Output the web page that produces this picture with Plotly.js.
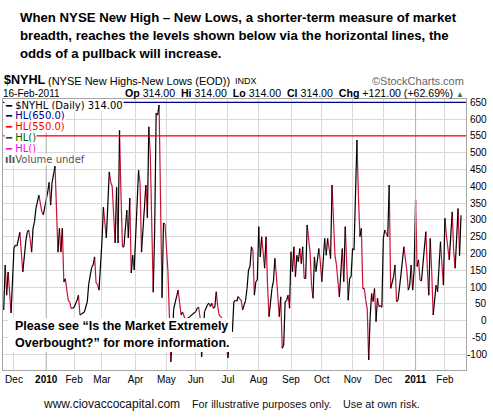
<!DOCTYPE html>
<html><head><meta charset="utf-8">
<script src="https://cdn.plot.ly/plotly-3.0.1.min.js"></script>
<style>html,body{margin:0;padding:0;background:#fff;overflow:hidden}</style>
</head><body><div id="chart" style="width:493px;height:418px"></div>
<script>
const dates = [
'2009-11-19','2009-11-20','2009-11-23','2009-11-24','2009-11-27',
'2009-12-01','2009-12-02','2009-12-03','2009-12-07','2009-12-09','2009-12-11','2009-12-14','2009-12-15','2009-12-16','2009-12-17','2009-12-18','2009-12-21','2009-12-22','2009-12-24','2009-12-29','2009-12-30',
'2010-01-05','2010-01-06','2010-01-07','2010-01-08','2010-01-12','2010-01-14','2010-01-15','2010-01-19','2010-01-20','2010-01-21','2010-01-22','2010-01-26','2010-01-27','2010-01-28','2010-01-29',
'2010-02-01','2010-02-03','2010-02-04','2010-02-05','2010-02-08','2010-02-10','2010-02-12','2010-02-16','2010-02-18','2010-02-19','2010-02-22','2010-02-23','2010-02-24','2010-02-25',
'2010-03-01','2010-03-02','2010-03-04','2010-03-08','2010-03-09','2010-03-10','2010-03-12','2010-03-15','2010-03-16','2010-03-17','2010-03-18','2010-03-19','2010-03-22','2010-03-24','2010-03-25','2010-03-26','2010-03-29','2010-03-30','2010-03-31',
'2010-04-06','2010-04-07','2010-04-08','2010-04-13','2010-04-14','2010-04-15','2010-04-16','2010-04-20','2010-04-21','2010-04-22','2010-04-23','2010-04-26','2010-04-28','2010-04-29','2010-04-30',
'2010-05-04','2010-05-05','2010-05-06','2010-05-10','2010-05-13','2010-05-17','2010-05-18','2010-05-20','2010-05-25','2010-05-27',
'2010-06-01','2010-06-02','2010-06-03','2010-06-04','2010-06-07','2010-06-09','2010-06-11','2010-06-14','2010-06-15','2010-06-16','2010-06-17','2010-06-18','2010-06-21','2010-06-22','2010-06-23','2010-06-24','2010-06-25',
'2010-07-01','2010-07-06','2010-07-07','2010-07-08','2010-07-09','2010-07-12','2010-07-13','2010-07-14','2010-07-15','2010-07-16','2010-07-19','2010-07-20','2010-07-21','2010-07-22','2010-07-23','2010-07-26','2010-07-27','2010-07-28','2010-07-29','2010-07-30',
'2010-08-02','2010-08-03','2010-08-04','2010-08-06','2010-08-09','2010-08-10','2010-08-11','2010-08-13','2010-08-16','2010-08-17','2010-08-18','2010-08-20','2010-08-23','2010-08-24','2010-08-25','2010-08-26','2010-08-27','2010-08-30','2010-08-31',
'2010-09-01','2010-09-02','2010-09-03','2010-09-07','2010-09-08','2010-09-09','2010-09-10','2010-09-13','2010-09-14','2010-09-15','2010-09-16','2010-09-17','2010-09-21','2010-09-22','2010-09-23','2010-09-24','2010-09-27','2010-09-29','2010-09-30',
'2010-10-01','2010-10-05','2010-10-06','2010-10-07','2010-10-11','2010-10-12','2010-10-14','2010-10-15','2010-10-19','2010-10-21','2010-10-22','2010-10-25','2010-10-27','2010-10-28','2010-10-29',
'2010-11-01','2010-11-02','2010-11-04','2010-11-05','2010-11-08','2010-11-09','2010-11-10','2010-11-11','2010-11-12','2010-11-15','2010-11-16','2010-11-17','2010-11-18','2010-11-19','2010-11-22','2010-11-23','2010-11-24','2010-11-26','2010-11-29','2010-11-30',
'2010-12-01','2010-12-02','2010-12-06','2010-12-07','2010-12-08','2010-12-10','2010-12-13','2010-12-14','2010-12-15','2010-12-17','2010-12-21','2010-12-23','2010-12-27','2010-12-28','2010-12-29','2010-12-30','2010-12-31',
'2011-01-03','2011-01-04','2011-01-05','2011-01-06','2011-01-07','2011-01-12','2011-01-13','2011-01-14','2011-01-18','2011-01-19','2011-01-20','2011-01-24','2011-01-25','2011-01-27','2011-01-28','2011-01-31',
'2011-02-01','2011-02-02','2011-02-04','2011-02-08','2011-02-09','2011-02-10','2011-02-14','2011-02-15','2011-02-16'
];
const values = [
32,166,76,145,23,
216,225,222,263,145,234,263,270,244,204,275,295,335,374,324,315,
383,412,344,412,460,204,275,204,275,115,125,61,55,37,37,
40,60,76,17,20,26,56,110,159,166,190,112,108,91,
234,338,246,443,412,400,231,397,231,567,374,220,220,329,246,365,142,195,151,
448,409,204,404,306,577,493,85,275,618,612,642,68,291,288,
150,17,-123,37,91,17,26,2,12,20,
27,37,40,8,-108,27,47,52,42,52,37,40,86,42,17,12,8,
-111,2,-33,56,61,58,72,65,61,32,47,60,96,151,161,220,210,76,116,121,
280,190,250,156,250,106,12,96,116,186,136,12,71,-82,-72,56,60,76,37,
205,146,220,131,195,175,215,170,220,126,126,285,205,106,67,190,146,215,175,
116,245,195,245,185,404,195,166,71,215,116,280,61,126,131,
215,210,538,370,250,275,96,96,60,37,-117,12,81,57,96,-3,67,42,45,40,
245,270,250,404,96,131,166,57,60,136,220,151,91,106,166,91,151,
359,161,181,121,118,265,156,76,245,146,17,106,86,235,166,106,
305,255,181,324,205,156,334,193,314
];
const levels = [650, 550];
const levelColors = ['#000080', '#ff0000'];
const monthTicks = ['2009-12-01','2010-01-04','2010-02-01','2010-03-01','2010-04-01','2010-05-03','2010-06-01','2010-07-01','2010-08-02','2010-09-01','2010-10-01','2010-11-01','2010-12-01','2011-01-03','2011-02-01'];
const monthLabels = ['Dec','<b>2010</b>','Feb','Mar','Apr','May','Jun','Jul','Aug','Sep','Oct','Nov','Dec','<b>2011</b>','Feb'];
const yearStarts = ['2010-01-04','2011-01-03'];
const yTicks = [-100,-50,0,50,100,150,200,250,300,350,400,450,500,550,600,650];
const holidays = ['2009-11-26','2009-12-25','2010-01-01','2010-01-18','2010-02-15','2010-04-02','2010-05-31','2010-07-05','2010-09-06','2010-11-25','2010-12-24','2011-01-17','2011-02-21'];

const upColor = '#000000', downColor = '#cc1036';
const up = {x:[], y:[]}, dn = {x:[], y:[]};
for (let i = 0; i < values.length - 1; i++) {
  const t = values[i+1] >= values[i] ? up : dn;
  t.x.push(dates[i], dates[i+1], null);
  t.y.push(values[i], values[i+1], null);
}
const traces = [
  {type:'scatter', mode:'lines', x:dn.x, y:dn.y, line:{color:downColor, width:1.2}, connectgaps:false, hoverinfo:'skip'},
  {type:'scatter', mode:'lines', x:up.x, y:up.y, line:{color:upColor, width:1.2}, connectgaps:false, hoverinfo:'skip'}
];

// page-pixel to paper helpers (plot area: x 3..466, y 99..370)
const L = 3, R = 466, T = 99, B = 370;
const px = x => (x - L) / (R - L);
const py = y => (B - y) / (B - T);

const last = values[values.length-1], prev = values[values.length-2];
const chg = last - prev;
const pct = chg / prev * 100;
const lastDate = new Date(dates[dates.length-1] + 'T00:00:00Z');
const mon = ['Jan','Feb','Mar','Apr','May','Jun','Jul','Aug','Sep','Oct','Nov','Dec'];
const dateStr = String(lastDate.getUTCDate()).padStart(2,'0') + '-' + mon[lastDate.getUTCMonth()] + '-' + lastDate.getUTCFullYear();
const f2 = v => v.toFixed(2);
const sgn = v => (v >= 0 ? '+' : '') + v.toFixed(2);

const ARIAL = 'Liberation Sans, Arial, sans-serif';
const LEG = 'DejaVu Sans, Verdana, sans-serif';
const ann = [];
function text(x, y, t, size, opts) {
  ann.push(Object.assign({xref:'paper', yref:'paper', x:px(x), y:py(y), text:t, showarrow:false,
    xanchor:'left', yanchor:'middle', font:{family:ARIAL, size:size, color:'#000'}}, opts || {}));
}
// title
text(18, 17, '<b>When NYSE New High – New Lows, a shorter-term measure of market</b>', 13.2);
text(18, 35, '<b>breadth, reaches the levels shown below via the horizontal lines, the</b>', 13.2);
text(18, 53, '<b>odds of a pullback will increase.</b>', 13.2);
// header
text(2, 80.5, '<b>$NYHL</b>', 12.6);
text(46, 81, '(NYSE New Highs-New Lows (EOD))', 11);
text(233, 81, 'INDX', 9);
text(466, 81, '©StockCharts.com', 11, {xanchor:'right', font:{family:ARIAL, size:11, color:'#666'}});
text(1, 93.5, dateStr, 10);
text(466, 93.5, '<b>Op</b> ' + f2(last) + '  <b>Hi</b> ' + f2(last) + '  <b>Lo</b> ' + f2(last) + '  <b>Cl</b> ' + f2(last) +
  '  <b>Chg</b> ' + sgn(chg) + ' (' + sgn(pct) + '%) <span style="color:#2f7d32;font-size:8px">▲</span>', 10.6, {xanchor:'right'});
// legend rows
const legRows = [
  ['#000000', '$NYHL (Daily) ' + f2(last)],
  [levelColors[0], 'HL(' + levels[0].toFixed(1) + ')'],
  [levelColors[1], 'HL(' + levels[1].toFixed(1) + ')'],
  ['#006400', 'HL()'],
  ['#ff00ff', 'HL()']
];
legRows.forEach((r, i) => {
  text(4, 105 + i * 10.9, '<b>━</b> ' + r[1], 10,
    {bgcolor:'#ffffff', borderpad:0, font:{family:LEG, size:10, color:r[0]}});
});
text(4, 105 + 5 * 10.9, '<b>ılı</b>Volume undef', 10, {bgcolor:'#ffffff', borderpad:0, font:{family:LEG, size:10, color:'#555'}});
// note box lines
text(13, 326, '<b>Please see “Is the Market Extremely</b>', 12.5);
text(13, 343, '<b>Overbought?” for more information.</b>', 12.5);
// footer
const FOOT = '#111111';
text(41, 403.5, 'www.ciovaccocapital.com', 12, {font:{family:ARIAL, size:12, color:FOOT}});
text(190, 403.5, 'For illustrative purposes only.', 10.8, {font:{family:ARIAL, size:10.8, color:FOOT}});
text(341, 403.5, 'Use at own risk.', 10.8, {font:{family:ARIAL, size:10.8, color:FOOT}});
// y tick labels, right aligned
yTicks.forEach(v => ann.push({xref:'paper', yref:'y', x:1, xanchor:'right', xshift:23, y:v, yanchor:'middle',
  text:String(v), showarrow:false, font:{family:ARIAL, size:10, color:'#000'}}));

const shapes = [];
yearStarts.forEach(d => shapes.push({type:'line', xref:'x', yref:'paper', x0:d, x1:d, y0:0, y1:1, layer:'above', line:{color:'#b4b4b4', width:1}}));
levels.forEach((v, i) => shapes.push({type:'line', xref:'paper', yref:'y', x0:0, x1:1, y0:v, y1:v, layer:'above', line:{color:levelColors[i], width:1.3}}));
shapes.push({type:'rect', xref:'paper', yref:'paper', x0:px(8), x1:px(232), y0:py(352), y1:py(318), layer:'above', fillcolor:'#ffffff', line:{width:0}});

const layout = {
  width:493, height:418, margin:{l:L, r:493-R, t:T, b:418-B, pad:0},
  paper_bgcolor:'#ffffff', plot_bgcolor:'#ffffff', showlegend:false,
  xaxis:{type:'date', range:['2009-11-18 12:00','2011-02-22 09:36'],
    rangebreaks:[{bounds:['sat','mon']},{values:holidays}],
    tickmode:'array', tickvals:monthTicks, ticktext:monthLabels, ticks:'',
    tickfont:{family:ARIAL, size:10, color:'#000'},
    showgrid:true, gridcolor:'#d9d9d9', gridwidth:1, zeroline:false,
    showline:true, linecolor:'#a6a6a6', linewidth:1, mirror:true, fixedrange:true},
  yaxis:{range:[-146.7, 659.8], side:'right', tickmode:'array', tickvals:yTicks, showticklabels:false, ticks:'',
    showgrid:true, gridcolor:'#d9d9d9', gridwidth:1, zeroline:false,
    showline:true, linecolor:'#a6a6a6', linewidth:1, mirror:true, fixedrange:true},
  annotations:ann, shapes:shapes
};
Plotly.newPlot('chart', traces, layout, {staticPlot:true, displayModeBar:false});
</script></body></html>
